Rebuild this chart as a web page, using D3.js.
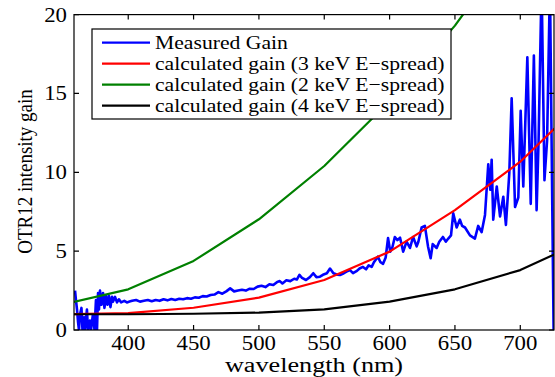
<!DOCTYPE html>
<html>
<head>
<meta charset="utf-8">
<script src="https://cdn.jsdelivr.net/npm/d3@7"></script>
<style>
  body { margin: 0; background: #fff; }
  svg { display: block; }
</style>
</head>
<body>
<script>
// calculated curves, sampled every 50 nm
const calc_wl = [350, 400, 450, 500, 550, 600, 650, 700, 750]
const gain_3kev = [1.0, 1.07, 1.41, 2.05, 3.17, 4.97, 7.6, 10.67, 14.7]
const gain_2kev = [1.62, 2.58, 4.38, 7.02, 10.4, 14.5, 19.3, 25, 32]
const gain_4kev = [1.0, 1.0, 1.03, 1.1, 1.31, 1.8, 2.58, 3.8, 5.7]

// measured gain
const meas_wl = [
  359.3, 360.0, 360.8, 361.6, 362.3, 363.1, 364.2, 365.0, 366.2, 366.9,
  368.4, 369.2, 370.7, 371.5, 373.0, 374.2, 375.3, 376.1, 376.9, 377.6,
  378.4, 379.5, 380.7, 381.8, 383.0, 384.1, 385.3, 386.4, 387.6, 388.3,
  389.9, 391.4, 392.9, 394.5, 397, 399, 401, 403, 406, 409,
  412, 415, 418, 421, 424, 427, 430, 433, 436, 439,
  442, 445, 448, 451, 454, 457, 460, 463, 466, 469,
  472, 475, 478, 481, 484, 487, 490, 493, 496, 499,
  502, 505, 508, 511, 514, 516, 518, 521, 524, 527,
  529, 531, 533, 536, 539, 541.6, 544, 546.7, 549, 552,
  554.4, 557, 560, 562, 565, 567, 569.7, 572, 575, 577,
  579.6, 582, 584, 586.3, 588, 591, 593, 595, 597, 598.8,
  600.5, 602, 604, 606, 608, 610.4, 613, 615.6, 618, 620.7,
  622, 624.5, 627, 629.4, 631.4, 633, 636, 638, 640.8, 643,
  644.9, 647, 648.7, 651.3, 653.8, 655.5, 657.7, 661.5, 665.3, 667.8,
  670.4, 673, 675.5, 677, 678.1, 679.3, 682, 684.5, 687, 689,
  691.6, 693.4, 696, 698.5, 700.3, 702.3, 705.4, 708, 710.4, 712.5,
  714, 716.3, 718.5, 720.5, 722.7, 724.5, 725.5
]
const meas_gain = [
  2.5, 1.9, 1.3, 0.5, 0, 1.0, 1.4, 0, 0.8, 0,
  1.3, 0, 0.6, 0, 1.0, 0, 1.9, 0, 2.35, 1.3,
  2.5, 1.6, 2.35, 1.4, 2.2, 1.6, 2.15, 1.45, 2.1, 1.8,
  2.1, 1.75, 1.95, 1.75, 1.85, 1.75, 1.8, 1.85, 1.9, 1.8,
  1.85, 1.9, 1.82, 1.9, 1.85, 1.95, 1.88, 1.97, 1.9, 1.98,
  1.95, 2.02, 1.98, 2.07, 2.05, 2.15, 2.12, 2.22, 2.25, 2.4,
  2.3, 2.45, 2.64, 2.45, 2.5, 2.55, 2.5, 2.62, 2.6, 2.75,
  2.8, 2.72, 2.9, 2.85, 3.05, 3.1, 2.95, 3.15, 3.1, 3.25,
  3.2, 3.5, 3.3, 3.17, 3.35, 3.6, 3.35, 3.38, 3.5, 3.6,
  3.9, 3.6, 3.5, 3.49, 3.6, 3.7, 3.8, 3.6, 3.75, 3.9,
  4.0, 3.85, 4.1, 4.0, 4.3, 4.65, 4.3, 4.2, 4.6, 5.83,
  4.97, 5.2, 5.9, 5.7, 5.85, 4.97, 5.6, 5.2, 5.9, 5.3,
  5.6, 6.5, 6.6, 5.3, 4.55, 5.45, 5.2, 5.6, 5.9, 5.6,
  5.8, 6.0, 7.4, 6.5, 7.0, 6.6, 6.5, 6.0, 5.8, 6.6,
  6.2, 7.3, 10.5, 8.9, 10.8, 7.0, 9.1, 7.2, 8.45, 6.66,
  9.95, 14.7, 7.8, 8.4, 13.9, 9.1, 17.3, 8.0, 17.4, 7.6,
  12, 22, 9.5, 12, 22, 7.7, 0
]

const x_ticks = [400, 450, 500, 550, 600, 650, 700]
const y_ticks = [0, 5, 10, 15, 20]

const series = [
  {name: 'Measured Gain', color: '#0000ff', wl: meas_wl, gain: meas_gain, width: 2.6},
  {name: 'calculated gain (3 keV E\u2212spread)', color: '#ff0000', wl: calc_wl, gain: gain_3kev, width: 2.2},
  {name: 'calculated gain (2 keV E\u2212spread)', color: '#008000', wl: calc_wl, gain: gain_2kev, width: 2.2},
  {name: 'calculated gain (4 keV E\u2212spread)', color: '#000000', wl: calc_wl, gain: gain_4kev, width: 2.2},
]

const width = 555
const height = 377
const margin = {top: 14.6, right: 1, bottom: 47, left: 74}
const font = "'Liberation Serif', 'Times New Roman', serif"
const sx = 1.14   // the reference text is a bit wider than it is tall
const tick_len = 5

function translate(dx, dy) {
  return `translate(${dx}, ${dy})`
}

const svg = d3.select('body').append('svg')
  .attr('width', width)
  .attr('height', height)

svg.append('rect')
  .attr('width', width)
  .attr('height', height)
  .attr('fill', '#fff')

const x = d3.scaleLinear()
  .domain([358.5, 725.8])
  .range([margin.left, width - margin.right])

const y = d3.scaleLinear()
  .domain([0, 20])
  .range([height - margin.bottom, margin.top])

svg.append('defs').append('clipPath')
  .attr('id', 'plot')
  .append('rect')
  .attr('x', x.range()[0])
  .attr('y', y.range()[1])
  .attr('width', x.range()[1] - x.range()[0])
  .attr('height', y.range()[0] - y.range()[1])

const line = d3.line()
  .x(d => x(d[0]))
  .y(d => y(d[1]))

svg.append('g')
  .attr('clip-path', 'url(#plot)')
  .selectAll('path')
  .data(series)
  .join('path')
    .attr('d', s => line(d3.zip(s.wl, s.gain)))
    .attr('fill', 'none')
    .attr('stroke', d => d.color)
    .attr('stroke-width', d => d.width)
    .attr('stroke-linejoin', 'round')

// axes box with ticks on all four sides, pointing in
const ax = svg.append('g')
  .attr('stroke', '#000')
  .attr('stroke-width', 1.2)

ax.append('rect')
  .attr('x', x.range()[0])
  .attr('y', y.range()[1])
  .attr('width', x.range()[1] - x.range()[0])
  .attr('height', y.range()[0] - y.range()[1])
  .attr('fill', 'none')

ax.selectAll('.xt')
  .data(x_ticks)
  .join('path')
    .attr('d', t => `M${x(t)},${y(0)}v${-tick_len}M${x(t)},${y(20)}v${tick_len}`)

ax.selectAll('.yt')
  .data(y_ticks)
  .join('path')
    .attr('d', t => `M${x.range()[0]},${y(t)}h${tick_len}M${x.range()[1]},${y(t)}h${-tick_len}`)

const text = (g, size) => g.append('text')
  .attr('font-family', font)
  .attr('font-size', size)
  .attr('fill', '#000')

svg.selectAll('.xl')
  .data(x_ticks)
  .join('text')
    .attr('transform', t => `${translate(x(t), 349.5)} scale(${sx},1)`)
    .attr('text-anchor', 'middle')
    .attr('font-family', font)
    .attr('font-size', 20)
    .text(t => t)

svg.selectAll('.yl')
  .data(y_ticks)
  .join('text')
    .attr('transform', t => `${translate(67, y(t) + 7)} scale(${sx},1)`)
    .attr('text-anchor', 'end')
    .attr('font-family', font)
    .attr('font-size', 20)
    .text(t => t)

text(svg, 20)
  .attr('transform', `${translate((x.range()[0] + x.range()[1]) / 2, 371.5)} scale(1.31,1)`)
  .attr('text-anchor', 'middle')
  .text('wavelength (nm)')

text(svg, 19)
  .attr('transform', `${translate(32, 171.5)} scale(${sx},1) rotate(-90)`)
  .attr('text-anchor', 'middle')
  .text('OTR12 intensity gain')

// legend
const legend = svg.append('g').attr('transform', translate(92, 29))

legend.append('rect')
  .attr('width', 359)
  .attr('height', 90)
  .attr('fill', '#fff')
  .attr('stroke', '#000')
  .attr('stroke-width', 1.2)

const row = legend.selectAll('g')
  .data(series)
  .join('g')
    .attr('transform', (_, i) => translate(0, 13.7 + 21 * i))

row.append('line')
  .attr('x1', 10)
  .attr('x2', 58)
  .attr('stroke', d => d.color)
  .attr('stroke-width', 2.2)

row.append('text')
  .attr('transform', `${translate(63, 6)} scale(${sx},1)`)
  .attr('font-family', font)
  .attr('font-size', 19)
  .text(d => d.name)
</script>
</body>
</html>
